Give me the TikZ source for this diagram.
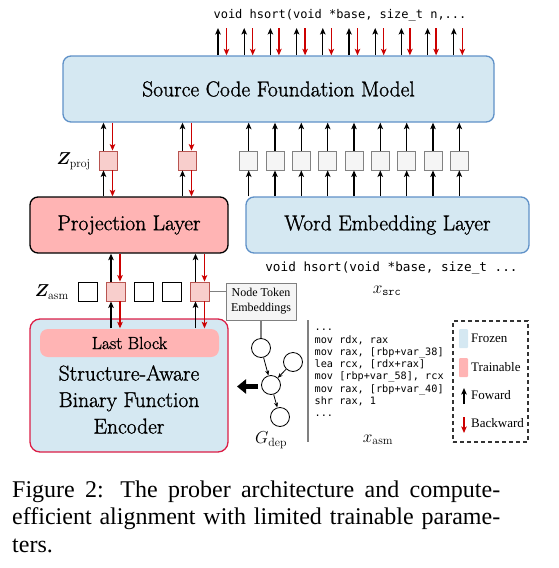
\documentclass[tikz,border=0pt]{standalone}
\usepackage{amsmath,bm}
\usepackage{fontspec}
\usetikzlibrary{arrows.meta}
\newfontfamily\capfont{Liberation Serif}
\newfontfamily\codefont{DejaVu Sans Mono}
\newfontfamily\boxfont{Latin Modern Roman}[RawFeature={embolden=1.2}]
\definecolor{fblue}{RGB}{213,232,242}
\definecolor{bblue}{RGB}{95,145,200}
\definecolor{fpink}{RGB}{255,180,180}
\definecolor{sqpink}{RGB}{248,206,204}
\definecolor{sqpinkb}{RGB}{184,84,80}
\definecolor{sqgrey}{RGB}{245,245,245}
\definecolor{sqgreyb}{RGB}{130,130,130}
\definecolor{crim}{RGB}{220,30,70}
\definecolor{bwred}{RGB}{204,0,0}
\begin{document}
\begin{tikzpicture}[x=1pt,y=-1pt,
  blk/.style={rounded corners=8pt, line width=1.3pt, inner sep=0pt, font=\boxfont\fontsize{21.5}{26}\selectfont},
  frozen/.style={blk, draw=bblue, fill=fblue},
  fw/.style={draw=black, line width=1.3pt, -{Stealth[length=6.5pt,width=5.5pt,inset=1.5pt]}},
  bw/.style={draw=bwred, line width=1.3pt, -{Stealth[length=6.5pt,width=5.5pt,inset=1.5pt]}},
  psq/.style={draw=sqpinkb, fill=sqpink, minimum width=18pt, minimum height=19pt, inner sep=0pt, line width=0.8pt},
  gsq/.style={draw=sqgreyb, fill=sqgrey, minimum width=18pt, minimum height=19pt, inner sep=0pt, line width=0.8pt},
  wsq/.style={draw=black, fill=white, minimum width=19pt, minimum height=19pt, inner sep=0pt, line width=0.8pt},
  gc/.style={circle, draw=black, fill=white, minimum size=19pt, inner sep=0pt, line width=0.8pt},
  ga/.style={draw=black, line width=0.8pt, -{Stealth[length=5pt,width=4pt]}},
  gline/.style={draw=gray, line width=1.2pt},
  lbl/.style={inner sep=0pt, font=\fontsize{17}{20}\selectfont},
  leg/.style={anchor=west, inner sep=0pt, font=\capfont\fontsize{13}{15}\selectfont},
  code/.style={inner sep=0pt, font=\codefont\fontsize{12}{14}\selectfont}
]
\useasboundingbox (0,0) rectangle (559,568);

% main blocks
\node[frozen, minimum width=431pt, minimum height=66pt] (scfm) at (278.5,89) {Source Code Foundation Model};
\node[blk, draw=black, fill=fpink, minimum width=198pt, minimum height=56pt] (proj) at (129,225) {Projection Layer};
\node[frozen, minimum width=283pt, minimum height=56pt] (wel) at (387.5,225) {Word Embedding Layer};
\node[blk, rounded corners=10pt, draw=crim, fill=fblue, minimum width=198pt, minimum height=133pt] (enc) at (129,385.5) {};
\node[blk, draw=none, fill=fpink, minimum width=179pt, minimum height=28pt, font=\boxfont\fontsize{17.5}{20}\selectfont] (last) at (129.5,343) {Last Block};
\node[inner sep=0pt, align=center, font=\boxfont\fontsize{21.5}{26.5}\selectfont] (enct) at (129,399.5) {Structure-Aware\\Binary Function\\Encoder};

% top code and arrows
\node[code] (topcode) at (340,15) {void hsort(void *base, size\_t n,...};
\foreach \x [count=\i] in {218,244.2,270.4,296.6,322.8,349,375.2,401.4,427.6,453.8} {
  \coordinate (t\i) at (\x,28);
  \coordinate (r\i) at (\x+8.5,28);
  \draw[fw] (t\i |- scfm.north) -- (t\i);
  \draw[bw] (r\i) -- (r\i |- scfm.north);
}

% projection outputs
\node[psq] (zp1) at (108,160.5) {};
\node[psq] (zp2) at (187,160.5) {};
\foreach \n in {zp1,zp2} {
  \draw[fw] ([xshift=-4.5pt]\n.north) -- ([xshift=-4.5pt]\n.north |- scfm.south);
  \draw[bw] ([xshift=4.5pt]\n.north |- scfm.south) -- ([xshift=4.5pt]\n.north);
  \draw[fw] ([xshift=-4.5pt]\n.south |- proj.north) -- ([xshift=-4.5pt]\n.south);
  \draw[bw] ([xshift=4.5pt]\n.south) -- ([xshift=4.5pt]\n.south |- proj.north);
}
\node[lbl, anchor=east] (zproj) at (91,161) {$\bm{Z}_{\mathrm{proj}}$};

% word embedding outputs
\foreach \x [count=\i] in {248.7,275,301.3,327.7,354,380.3,406.7,433,459.3} {
  \node[gsq] (g\i) at (\x,160.5) {};
  \draw[fw] (g\i.north) -- (g\i.north |- scfm.south);
  \draw[fw] (g\i.south |- wel.north) -- (g\i.south);
}
\node[code, font=\codefont\fontsize{12.7}{14}\selectfont] (botcode) at (391.5,268) {void hsort(void *base, size\_t ...};
\node[lbl] (xsrc) at (387,291) {$x_{\mathtt{src}}$};

% asm tokens
\node[wsq] (a1) at (87.5,291.5) {};
\node[psq, minimum width=19pt] (a2) at (115.5,291.5) {};
\node[wsq] (a3) at (143.5,291.5) {};
\node[wsq] (a4) at (171.5,291.5) {};
\node[psq, minimum width=19pt] (a5) at (200,291.5) {};
\foreach \n in {a2,a5} {
  \draw[fw] ([xshift=-4.5pt]\n.north) -- ([xshift=-4.5pt]\n.north |- proj.south);
  \draw[bw] ([xshift=4.5pt]\n.north |- proj.south) -- ([xshift=4.5pt]\n.north);
  \draw[fw] ([xshift=-4.5pt]\n.south |- last.north) -- ([xshift=-4.5pt]\n.south);
  \draw[bw] ([xshift=4.5pt]\n.south) -- ([xshift=4.5pt]\n.south |- last.north);
}
\node[lbl, anchor=east] (zasm) at (69,292) {$\bm{Z}_{\mathrm{asm}}$};

% node token embeddings
\node[draw=gray, fill=sqgrey, line width=1pt, minimum width=70pt, minimum height=37pt, inner sep=0pt, align=center, font=\capfont\fontsize{12}{15}\selectfont] (nte) at (261,301.5) {Node Token\\Embeddings};
\draw[gline] (a5.east) -- (a5.east -| nte.west);

% graph
\node[gc] (c1) at (261,348) {};
\node[gc] (c2) at (293,362) {};
\node[gc] (c3) at (271,385) {};
\node[gc] (c4) at (280,417) {};
\draw[gline] (nte.south) -- (c1.north);
\draw[ga] (c1) -- (c3);
\draw[ga] (c2) -- (c3);
\draw[ga] (c3) -- (c4);
\coordinate (ba1) at (258,386.5);
\coordinate (ba2) at (237,386.5);
\draw[line width=5pt, -{Triangle[length=9pt,width=14pt]}] (ba1) -- (ba2);
\node[lbl] (gdep) at (271,440) {$G_{\mathrm{dep}}$};

% separator and asm code
\coordinate (v1) at (308,320);
\coordinate (v2) at (308,442);
\draw[gray, line width=1.1pt] (v1) -- (v2);
\node[inner sep=0pt, anchor=west, align=left, font=\codefont\fontsize{10.2}{12.3}\selectfont] (asm) at (314.5,373) {...\\mov rdx, rax\\mov rax, [rbp+var\_38]\\lea rcx, [rdx+rax]\\mov [rbp+var\_58], rcx\\mov rax, [rbp+var\_40]\\shr rax, 1\\...};
\node[lbl] (xasm) at (378,440) {$x_{\mathrm{asm}}$};

% legend
\node[draw=black!80, dash pattern=on 4pt off 3pt, line width=1.2pt, minimum width=75pt, minimum height=121pt, inner sep=0pt] (legend) at (490.5,381.5) {};
\node[fill=fblue, rounded corners=1pt, minimum width=9pt, minimum height=19pt, inner sep=0pt] (sw1) at (463.5,338.5) {};
\node[fill=fpink, rounded corners=1pt, minimum width=9pt, minimum height=19pt, inner sep=0pt] (sw2) at (463.5,367.5) {};
\node[leg] (lt1) at (471,338) {Frozen};
\node[leg] (lt2) at (471,367) {Trainable};
\node[leg] (lt3) at (471,395) {Foward};
\node[leg] (lt4) at (471,423) {Backward};
\coordinate (lf1) at (464,404);
\coordinate (lf2) at (464,388);
\draw[fw] (lf1) -- (lf2);
\coordinate (lb1) at (464,417);
\coordinate (lb2) at (464,433);
\draw[bw] (lb1) -- (lb2);

% caption
\node[anchor=base west, inner sep=0pt] (cap) at (12,497) {\parbox[t]{488pt}{\capfont\fontsize{24}{27.5}\selectfont
Figure 2: The prober architecture and compute-\linebreak efficient alignment with limited trainable parame-\linebreak ters.}};
\end{tikzpicture}
\end{document}
